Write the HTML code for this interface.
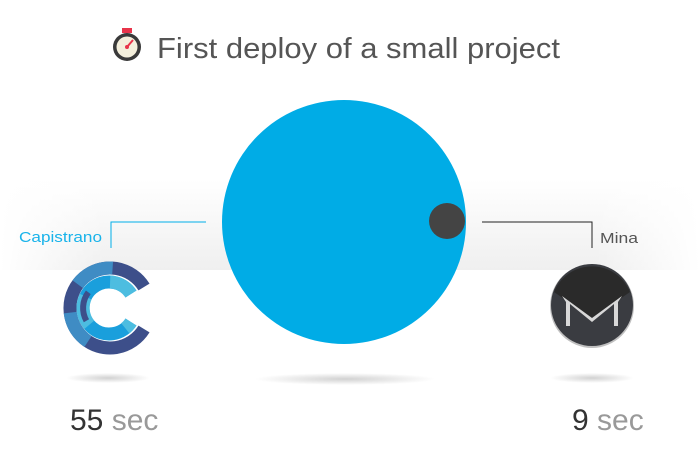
<!DOCTYPE html>
<html><head><meta charset="utf-8"><style>
html,body{margin:0;padding:0;background:#fff;}
svg{display:block;font-family:"Liberation Sans",sans-serif;}
</style></head><body>
<svg width="700" height="464" viewBox="0 0 700 464" xmlns="http://www.w3.org/2000/svg">
<defs>
<linearGradient id="band" x1="0" y1="0" x2="0" y2="1">
<stop offset="0" stop-color="#fff"/><stop offset="1" stop-color="#efefef"/>
</linearGradient>
<linearGradient id="bandx" x1="0" y1="0" x2="1" y2="0">
<stop offset="0" stop-color="#fff" stop-opacity="1"/><stop offset="0.15" stop-color="#fff" stop-opacity="0"/>
<stop offset="0.85" stop-color="#fff" stop-opacity="0"/><stop offset="1" stop-color="#fff" stop-opacity="1"/>
</linearGradient>
<radialGradient id="sh"><stop offset="0" stop-color="#000" stop-opacity="0.18"/><stop offset="1" stop-color="#000" stop-opacity="0"/></radialGradient>
</defs>
<rect x="0" y="180" width="700" height="90" fill="url(#band)"/>
<rect x="0" y="180" width="700" height="90" fill="url(#bandx)"/>

<g>
<circle cx="127" cy="47" r="14" fill="#3a3a3a"/>
<circle cx="127" cy="47" r="10.5" fill="#f4efdc"/>
<rect x="122" y="28" width="10" height="5" fill="#e8344a"/>
<line x1="127" y1="47" x2="133" y2="40" stroke="#e8344a" stroke-width="2"/>
<circle cx="127" cy="47" r="2" fill="#e8344a"/>
</g>
<text x="157" y="58" font-size="29" fill="#555" textLength="403" lengthAdjust="spacingAndGlyphs">First deploy of a small project</text>

<ellipse cx="345" cy="379" rx="90" ry="6" fill="url(#sh)"/>
<ellipse cx="108" cy="378" rx="42" ry="5" fill="url(#sh)"/>
<ellipse cx="592" cy="378" rx="42" ry="5" fill="url(#sh)"/>

<circle cx="344" cy="222" r="122" fill="#00ace6"/>
<circle cx="447" cy="221" r="18" fill="#444"/>

<polyline points="206,222 111,222 111,248" fill="none" stroke="#00aee8" stroke-width="1"/>
<polyline points="482,222 592,222 592,248" fill="none" stroke="#222" stroke-width="1"/>
<text x="19" y="242" font-size="15" fill="#19b3ea" textLength="83" lengthAdjust="spacingAndGlyphs">Capistrano</text>
<text x="600" y="243" font-size="15" fill="#555" textLength="38" lengthAdjust="spacingAndGlyphs">Mina</text>

<!-- capistrano logo -->
<g transform="translate(110,308)" fill="none">
<path d="M 34 -21 A 40 40 0 1 0 34 21" stroke="#3d4f8a" stroke-width="13"/>
<path d="M 34 -21 A 40 40 0 1 0 34 21" stroke="#3f8cc4" stroke-width="13" stroke-dasharray="0 38 40 30 35 200"/>
<path d="M 21 -14 A 26 26 0 1 0 21 14" stroke="#1a9fdc" stroke-width="13"/>
<path d="M 21 -14 A 26 26 0 1 0 21 14" stroke="#4dbde0" stroke-width="13" stroke-dasharray="25 30 30 40 60"/>
<path d="M 21 -14 A 26 26 0 1 0 21 14" stroke="#3d4f8a" stroke-width="6" stroke-dasharray="0 50 30 200"/>
</g>

<!-- mina logo -->
<g transform="translate(592,306)">
<circle r="42" fill="#c0c0c0"/>
<circle r="41" cy="-1" fill="#3a3c41"/>
<path d="M -38 -14 A 41 41 0 0 1 38 -14 L 0 12 Z" fill="#2a2a2a"/>
<path d="M -30 -10 L 0 12 L 30 -10 L 26 -4 L 26 20 L 22 20 L 22 -2 L 0 16 L -22 -2 L -22 20 L -26 20 L -26 -4 Z" fill="#d8d8d8"/>
</g>

<text x="70" y="430" font-size="30" fill="#333">55 <tspan fill="#999">sec</tspan></text>
<text x="572" y="430" font-size="30" fill="#333">9 <tspan fill="#999">sec</tspan></text>
</svg>
</body></html>
